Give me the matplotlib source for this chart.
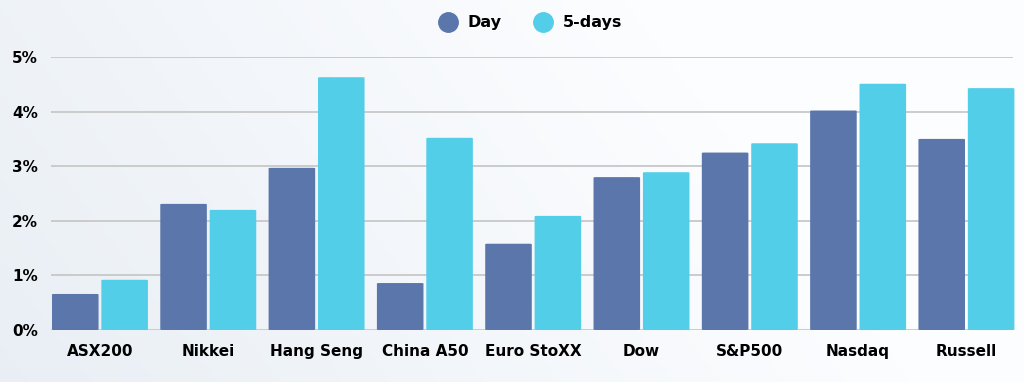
import numpy as np
import matplotlib.pyplot as plt
from matplotlib.lines import Line2D
from matplotlib.patches import FancyBboxPatch

# Data
categories = ["ASX200", "Nikkei", "Hang Seng", "China A50", "Euro StoXX",
              "Dow", "S&P500", "Nasdaq", "Russell"]
day = [0.66, 2.31, 2.97, 0.86, 1.58, 2.80, 3.25, 4.02, 3.50]
five_days = [0.92, 2.20, 4.63, 3.52, 2.09, 2.89, 3.42, 4.51, 4.43]
yticks = [0, 1, 2, 3, 4, 5]

c_day = "#5A76AB"
c_5d = "#53CEE9"

plt.rcParams['font.family'] = ['DejaVu Sans']

fig = plt.figure(figsize=(10.24, 3.82), dpi=100)
fig.patch.set_facecolor("#F7F9FC")

# subtle background gradient (bluish on the left, white towards top-right)
gx, gy = np.meshgrid(np.linspace(0, 1, 256), np.linspace(0, 1, 96))
g = np.clip(0.9 * (1 - gx) + 0.25 * gy - 0.35, 0, 1)
c0 = np.array([252, 253, 255]) / 255
c1 = np.array([228, 235, 242]) / 255
grad = c0 + (c1 - c0) * g[..., None]
bg = fig.add_axes([0, 0, 1, 1], zorder=-10)
bg.imshow(grad, aspect="auto", extent=[0, 1, 0, 1], origin="upper")
bg.axis("off")

ax = fig.add_axes([51 / 1024, 52 / 382, 962 / 1024, 273 / 382])
ax.patch.set_alpha(0)

x = np.arange(len(categories))
w = 0.43
off = 0.228
for bars in (ax.bar(x - off, day, w, color=c_day, zorder=3),
             ax.bar(x + off, five_days, w, color=c_5d, zorder=3)):
    # swap each bar for a slightly rounded one
    for b in bars:
        b.set_visible(False)
        p = FancyBboxPatch((b.get_x(), 0), b.get_width(), b.get_height(),
                           boxstyle="round,pad=0,rounding_size=0.02",
                           mutation_aspect=0.5,
                           facecolor=b.get_facecolor(), edgecolor="none",
                           zorder=3, clip_on=False)
        ax.add_patch(p)

ax.set_xlim(-0.452, 8.43)
ax.set_ylim(0, 5)
ax.set_yticks(yticks)
ax.set_yticklabels([f"{t}%" for t in yticks], fontsize=11, fontweight="bold")
ax.set_xticks(x)
ax.set_xticklabels(categories, fontsize=11, fontweight="bold")
ax.tick_params(length=0)
ax.tick_params(axis="y", pad=9.4)
ax.tick_params(axis="x", pad=10)
ax.grid(axis="y", color="#C8C8C8", linewidth=1.3, zorder=0)
for s in ax.spines.values():
    s.set_visible(False)

handles = [Line2D([], [], marker="o", linestyle="", markersize=14, color=c_day),
           Line2D([], [], marker="o", linestyle="", markersize=14, color=c_5d)]
fig.legend(handles, ["Day", "5-days"], loc="center", bbox_to_anchor=(527 / 1024, 1 - 23 / 382),
           ncol=2, frameon=False, prop={"weight": "bold", "size": 11.5},
           handletextpad=0.25, columnspacing=1.6)

fig.savefig("out.png", dpi=100, facecolor=fig.get_facecolor())
